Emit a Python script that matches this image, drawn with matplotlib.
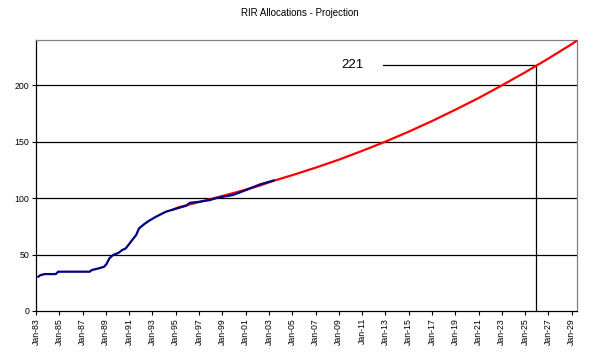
import numpy as np
import pandas as pd
import matplotlib
matplotlib.use("Agg")
import matplotlib.pyplot as plt

plt.rcParams['font.family'] = ['Liberation Sans', 'DejaVu Sans']

# actual allocations (decimal year, value)
actual_year = [1983.2, 1983.4, 1983.8, 1984.7, 1984.9, 1985.9, 1987.6, 1987.8, 1988.4,
               1988.85, 1989.05, 1989.3, 1989.6, 1990.1, 1990.4, 1990.7, 1991.0,
               1991.3, 1991.6, 1991.85, 1992.3, 1992.7, 1993.3, 1994.15, 1994.9,
               1995.9, 1996.2, 1997.0, 1997.9, 1998.7, 1999.9, 2001.0, 2002.2, 2003.4]
actual_val = [30.4, 31.9, 32.7, 32.7, 34.8, 34.8, 34.8, 36.3, 37.8,
              39.2, 41.6, 46.6, 49.5, 51.6, 54.0, 55.4, 59.3,
              63.4, 67.3, 73.2, 77.0, 79.9, 83.5, 87.9, 90.3,
              93.2, 95.8, 96.7, 98.2, 100.6, 102.7, 107.0, 112.0, 115.6]

# projection
proj_year = [1994.7, 1995.3, 1997.0, 1998.7, 2000.5, 2002.2, 2003.4, 2005, 2007, 2009,
             2011, 2013, 2015, 2017, 2019, 2021, 2023, 2025, 2027, 2029, 2029.45]
proj_val = [89.5, 92.0, 96.5, 101.0, 106.0, 111.0, 115.3, 120.3, 126.9, 134.0,
            141.8, 150.0, 158.8, 168.2, 178.2, 188.6, 199.8, 211.4, 223.6, 236.4, 239.5]

marker_year = 2025.9
marker_val = 218
marker_label = "221"
label_year = 2010.2
line_start_year = 2012.8


def to_date(years):
    years = np.atleast_1d(years)
    out = []
    for y in years:
        yr = int(np.floor(y))
        frac = y - yr
        start = pd.Timestamp(year=yr, month=1, day=1)
        end = pd.Timestamp(year=yr + 1, month=1, day=1)
        out.append(start + (end - start) * frac)
    return out


fig = plt.figure(figsize=(6.02, 3.53), dpi=100)
ax = fig.add_axes([36 / 602, 1 - 311 / 353, (577 - 36) / 602, (311 - 40) / 353])

ax.plot(to_date(proj_year), proj_val, color='#ff0000', lw=1.6, zorder=3)
ax.plot(to_date(actual_year), actual_val, color='#000080', lw=1.6, zorder=4)

# marker lines
ax.plot(to_date([line_start_year, marker_year]), [marker_val, marker_val], color='black', lw=0.9, zorder=2)
ax.plot(to_date([marker_year, marker_year]), [0, marker_val], color='black', lw=0.9, zorder=2)
ax.text(to_date(label_year)[0], marker_val, marker_label, fontsize=9.5, ha='center', va='center')

ax.set_ylim(0, 240)
ax.set_xlim(to_date(1983.0)[0], to_date(2029.45)[0])
ax.set_yticks([0, 50, 100, 150, 200])
for v in [50, 100, 150, 200]:
    ax.axhline(v, color='black', lw=0.9, zorder=1)

ticks = [pd.Timestamp(year=y, month=1, day=1) for y in range(1983, 2030, 2)]
ax.set_xticks(ticks)
ax.set_xticklabels([t.strftime('Jan-%y') for t in ticks], rotation=90, fontsize=6.3)
ax.tick_params(axis='y', labelsize=6.3, length=3, width=0.8, pad=2)
ax.tick_params(axis='x', length=3, width=0.8, pad=2)

for side in ['top', 'right']:
    ax.spines[side].set_color('#808080')
for side in ['left', 'bottom']:
    ax.spines[side].set_color('black')
for s in ax.spines.values():
    s.set_linewidth(0.9)

fig.text(300 / 602, 1 - 13 / 353, "RIR Allocations - Projection", fontsize=7, ha='center', va='center')

fig.savefig('out.png', dpi=100)
